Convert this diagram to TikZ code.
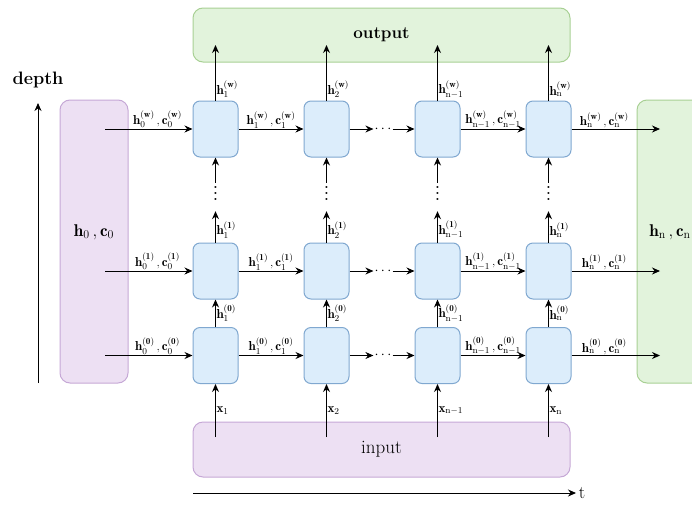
\documentclass[tikz,border=0pt]{standalone}
\usepackage{fontspec}
\usetikzlibrary{arrows.meta}
\definecolor{cellfill}{RGB}{220,237,251}
\definecolor{celldraw}{RGB}{128,168,208}
\definecolor{purplefill}{RGB}{237,224,243}
\definecolor{purpledraw}{RGB}{198,168,214}
\definecolor{greenfill}{RGB}{226,243,220}
\definecolor{greendraw}{RGB}{168,208,148}
\newcommand{\tallvdots}{\vbox{\baselineskip6pt\lineskiplimit0pt\hbox{.}\hbox{.}\hbox{.}}}
\newcommand{\hstate}[2]{$\mathbf{h}^{(\mathbf{#2})}_{\mathrm{#1}}\,,\mathbf{c}^{(\mathbf{#2})}_{\mathrm{#1}}$}
\begin{document}
\begin{tikzpicture}
[x=1pt,y=-1pt,
  celldecorate/.style={shape=rectangle,rounded corners=7pt,draw=celldraw,fill=cellfill,
    line width=1pt,minimum width=45pt,minimum height=56pt},
  purpledecorate/.style={shape=rectangle,rounded corners=10pt,draw=purpledraw,fill=purplefill,line width=1pt},
  greendecorate/.style={shape=rectangle,rounded corners=10pt,draw=greendraw,fill=greenfill,line width=1pt},
  arrowdecorate/.style={->,>={Stealth[length=8pt,width=7pt]},line width=1pt},
  labeldecorate/.style={font=\fontsize{13}{15}\selectfont,inner sep=0.5pt},
  hdotsdecorate/.style={font=\fontsize{14}{16}\selectfont\bfseries,inner sep=1pt},
  vdotsdecorate/.style={font=\fontsize{14}{16}\selectfont\bfseries,inner xsep=1pt,inner ysep=3pt,text depth=8pt}]
\useasboundingbox (0,0) rectangle (692,506);
%% boxes
\node (output) at (381.5,35) [greendecorate,minimum width=377pt,minimum height=54pt,
  font=\fontsize{17}{20}\selectfont\bfseries] {output};
\node (input) at (381.5,449.5) [purpledecorate,minimum width=377pt,minimum height=55pt,
  font=\fontsize{19}{22}\selectfont] {input};
\node (initial) at (94,241.5) [purpledecorate,minimum width=68pt,minimum height=283pt] {};
\node (final) at (680,241.5) [greendecorate,minimum width=86pt,minimum height=283pt] {};
\node (initial-text) at (94,232) [font=\fontsize{17}{20}\selectfont] {$\mathbf{h}_0\,,\mathbf{c}_0$};
\node (final-text) at (670,232) [font=\fontsize{17}{20}\selectfont] {$\mathbf{h}_{\mathrm{n}}\,,\mathbf{c}_{\mathrm{n}}$};
%% cells
\foreach \col/\x in {1/215.5, 2/326.5, 3/437.5, 4/548.5}
  \foreach \row/\y in {w/129, 1/271, 0/355.5}
    \node (\row-\col) at (\x,\y) [celldecorate] {};
%% horizontal edges
\foreach \row/\y in {w/129, 1/271, 0/355.5}
{
  \coordinate (start-\row) at (105,\y);
  \coordinate (end-\row) at (660,\y);
  \node (hdots-\row) at (383,\y) [hdotsdecorate] {$\cdots$};
  \draw[arrowdecorate] (start-\row) -- node[above,pos=0.6,labeldecorate] {\hstate{0}{\row}} (\row-1);
  \draw[arrowdecorate] (\row-1) -- node[above,labeldecorate] {\hstate{1}{\row}} (\row-2);
  \draw[arrowdecorate] (\row-2) -- (hdots-\row);
  \draw[arrowdecorate] (hdots-\row) -- (\row-3);
  \draw[arrowdecorate] (\row-3) -- node[above,labeldecorate] {\hstate{n-1}{\row}} (\row-4);
  \draw[arrowdecorate] (\row-4) -- node[above,pos=0.37,labeldecorate] {\hstate{n}{\row}} (end-\row);
}
%% vertical edges
\foreach \col/\x/\idx in {1/215.5/1, 2/326.5/2, 3/437.5/{n-1}, 4/548.5/n}
{
  \coordinate (top-\col) at (\x,45);
  \coordinate (in-\col) at (\x,437);
  \node (vdots-\col) at (\x,197) [vdotsdecorate] {\tallvdots};
  \draw[arrowdecorate] (w-\col) -- node[right,pos=0.2,labeldecorate] {$\mathbf{h}^{(\mathbf{w})}_{\mathrm{\idx}}$} (top-\col);
  \draw[arrowdecorate] (vdots-\col) -- (w-\col);
  \draw[arrowdecorate] (1-\col) -- node[right,pos=0.4,labeldecorate] {$\mathbf{h}^{(\mathbf{1})}_{\mathrm{\idx}}$} (vdots-\col);
  \draw[arrowdecorate] (0-\col) -- node[right,labeldecorate] {$\mathbf{h}^{(\mathbf{0})}_{\mathrm{\idx}}$} (1-\col);
  \draw[arrowdecorate] (in-\col) -- node[right,labeldecorate] {$\mathbf{x}_{\mathrm{\idx}}$} (0-\col);
}
%% axes
\coordinate (depth-start) at (38,383);
\coordinate (depth-end) at (38,103);
\node (depth) at (38,80) [font=\fontsize{18}{21}\selectfont\bfseries] {depth};
\draw[arrowdecorate] (depth-start) -- (depth-end);
\coordinate (time-start) at (193,493);
\coordinate (time-end) at (576,493);
\node (time) at (582,493) [font=\fontsize{18}{21}\selectfont] {t};
\draw[arrowdecorate] (time-start) -- (time-end);
\end{tikzpicture}
\end{document}
